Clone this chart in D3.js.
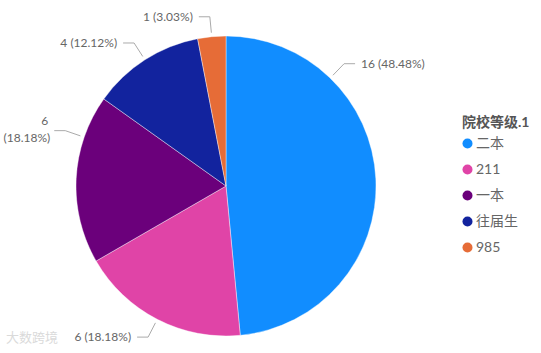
<!DOCTYPE html>
<html>
<head>
<meta charset="utf-8">
<script src="https://cdn.jsdelivr.net/npm/d3@7"></script>
<style>
  body { margin: 0; background: #fff; }
  svg { display: block; font-family: "Segoe UI", Lato, "Noto Sans CJK SC", sans-serif; }
</style>
</head>
<body>
<div id="chart"></div>
<script>
// data
var categories = ["二本", "211", "一本", "往届生", "985"];
var counts = [16, 6, 6, 4, 1];
var colors = ["#118DFF", "#E044A7", "#6B007B", "#12239E", "#E66C37"];
var legendTitle = "院校等级.1";

var width = 541, height = 353;
var cx = 226, cy = 186, radius = 150;

// label anchor angles (deg) where Power BI nudged them off the slice middle
var labelAngle = {"二本": 44, "一本": 289};

var data = categories.map(function(c, i) {
  return {cat: c, value: counts[i], color: colors[i]};
});
var total = d3.sum(counts);
var pct = d3.format(".2%");

var svg = d3.select("#chart").append("svg")
  .attr("width", width)
  .attr("height", height);

var pie = d3.pie().sort(null).value(function(d) { return d.value; });
var arc = d3.arc().innerRadius(0).outerRadius(radius);

var g = svg.append("g").attr("transform", "translate(" + cx + "," + cy + ")");

var arcs = pie(data);

g.selectAll("path.slice")
  .data(arcs)
  .enter().append("path")
  .attr("class", "slice")
  .attr("d", arc)
  .attr("fill", function(d) { return d.data.color; })
  .attr("stroke", "#fff")
  .attr("stroke-width", 0.4);

// leader lines + labels
var point = function(a, r) { return [r * Math.sin(a), -r * Math.cos(a)]; };

arcs.forEach(function(d) {
  var deg = labelAngle[d.data.cat];
  var a = deg !== undefined ? deg * Math.PI / 180 : (d.startAngle + d.endAngle) / 2;
  var p0 = point(a, radius + 4);
  var p1 = point(a, radius + 20);
  var right = Math.sin(a) > 0;
  var p2 = [p1[0] + (right ? 11 : -11), p1[1]];

  g.append("polyline")
    .attr("points", [p0, p1, p2].map(function(p) { return p.join(","); }).join(" "))
    .attr("fill", "none")
    .attr("stroke", "#aaa")
    .attr("stroke-width", 1);

  var txt = g.append("text")
    .attr("x", p2[0] + (right ? 6 : -6))
    .attr("y", p2[1])
    .attr("text-anchor", right ? "start" : "end")
    .attr("font-size", 12)
    .attr("fill", "#666");

  var label = d.data.value + " (" + pct(d.data.value / total) + ")";
  if (d.data.cat === "一本") {
    // wraps onto two lines in the reference
    txt.append("tspan").attr("x", p2[0] - 6).attr("dy", "-0.45em").text(d.data.value);
    txt.append("tspan").attr("x", p2[0] - 4).attr("dy", "1.4em").text("(" + pct(d.data.value / total) + ")");
  } else {
    txt.attr("dy", "0.35em").text(label);
  }
});

// legend
var legend = svg.append("g").attr("transform", "translate(462,122)");
legend.append("text")
  .attr("dy", "0.35em")
  .attr("font-size", 14)
  .attr("font-weight", "bold")
  .attr("fill", "#555")
  .text(legendTitle);

var item = legend.selectAll("g.item")
  .data(data)
  .enter().append("g")
  .attr("class", "item")
  .attr("transform", function(d, i) { return "translate(0," + (21.5 + i * 26) + ")"; });

item.append("circle")
  .attr("cx", 5.5)
  .attr("cy", 0)
  .attr("r", 5)
  .attr("fill", function(d) { return d.color; });

item.append("text")
  .attr("x", 14)
  .attr("dy", "0.35em")
  .attr("font-size", 14)
  .attr("fill", "#666")
  .text(function(d) { return d.cat; });

// faint watermark bottom-left
svg.append("text")
  .attr("x", 6)
  .attr("y", 342)
  .attr("font-size", 13)
  .attr("fill", "#dadada")
  .text("大数跨境");
</script>
</body>
</html>
